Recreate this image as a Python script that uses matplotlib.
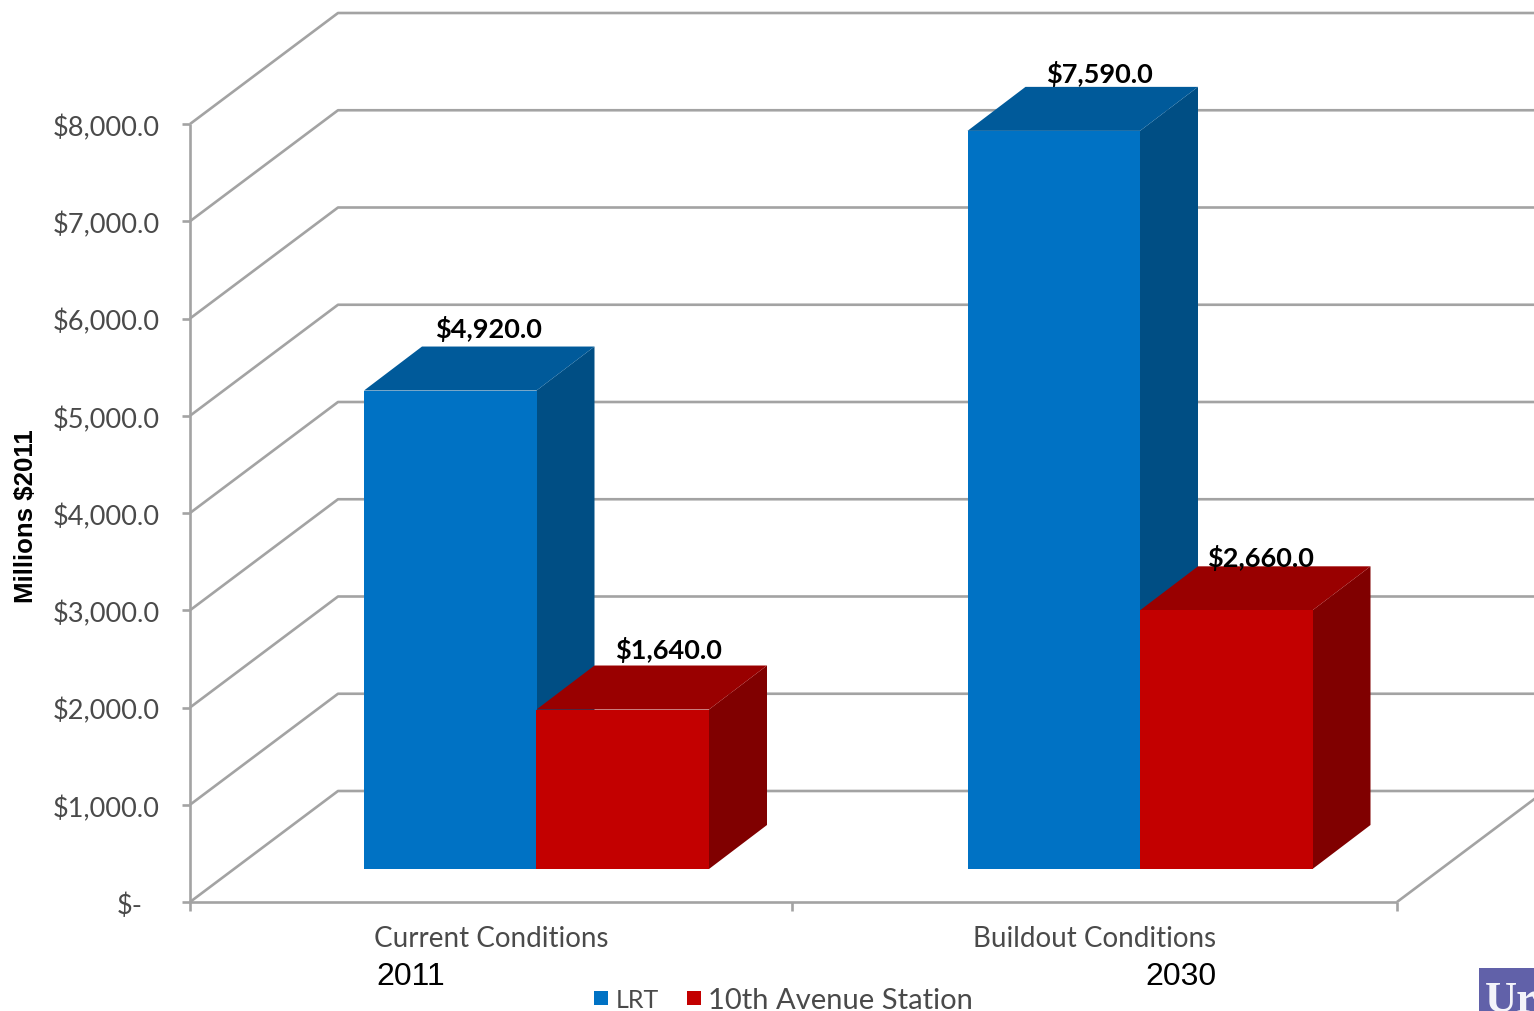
import matplotlib

matplotlib.use("Agg")

import matplotlib.pyplot as plt
from matplotlib.patches import Polygon, Rectangle

W, H = 1534, 1011

categories = ["Current Conditions", "Buildout Conditions"]
years = ["2011", "2030"]
lrt = [4920.0, 7590.0]
station = [1640.0, 2660.0]
y_ticks = [0, 1000, 2000, 3000, 4000, 5000, 6000, 7000, 8000]
y_tick_labels = [
    "$-", "$1,000.0", "$2,000.0", "$3,000.0", "$4,000.0",
    "$5,000.0", "$6,000.0", "$7,000.0", "$8,000.0",
]
series_names = ["LRT", "10th Avenue Station"]

# pixels per unit on the front plane
X_SCALE = 603.5
Y_SCALE = 0.09725
X0_PX, Y0_PX = 190, 902

GRID = "#a3a3a3"
TEXT = "#4a4a4a"
BLUE = ("#0072c4", "#005a9a", "#004e84")
RED = ("#c30000", "#990000", "#800000")

# 3d offsets: wall depth, bar inset from the front edge, bar depth
WALL_DX, WALL_DY = 148 / X_SCALE, 111 / Y_SCALE
INSET_DX, INSET_DY = 44 / X_SCALE, 33 / Y_SCALE
BAR_DX, BAR_DY = 58 / X_SCALE, 44 / Y_SCALE
BAR_W = 172.5 / X_SCALE

fig = plt.figure(figsize=(W / 100, H / 100), dpi=100, facecolor="white")
ax = fig.add_axes([0, 0, 1, 1])
ax.set_xlim(-X0_PX / X_SCALE, (W - X0_PX) / X_SCALE)
ax.set_ylim(-(H - Y0_PX) / Y_SCALE, Y0_PX / Y_SCALE)
ax.axis("off")


def fig_text(px, py, s, **kw):
    return fig.text(px / W, 1 - py / H, s, **kw)


def draw_bar(x, value, colors):
    y0 = INSET_DY
    y1 = y0 + value
    x1 = x + BAR_W
    front, top, side = colors
    ax.add_patch(Polygon(
        [(x1, y0), (x1 + BAR_DX, y0 + BAR_DY), (x1 + BAR_DX, y1 + BAR_DY), (x1, y1)],
        facecolor=side, edgecolor="none", zorder=3,
    ))
    ax.add_patch(Polygon(
        [(x, y1), (x1, y1), (x1 + BAR_DX, y1 + BAR_DY), (x + BAR_DX, y1 + BAR_DY)],
        facecolor=top, edgecolor="none", zorder=3,
    ))
    ax.add_patch(Rectangle((x, y0), BAR_W, value, facecolor=front, edgecolor="none", zorder=3))


# walls and floor
line_kw = dict(color=GRID, lw=1.9, solid_capstyle="butt", zorder=1)
x_end = ax.get_xlim()[1]
for v in y_ticks:
    ax.plot([0, WALL_DX, x_end], [v, v + WALL_DY, v + WALL_DY], **line_kw)
    ax.plot([-8 / X_SCALE, 0], [v, v], **line_kw)
ax.plot([0, 0], [0, y_ticks[-1]], **line_kw)
ax.plot([0, 2], [0, 0], **line_kw)
ax.plot([2, 2 + WALL_DX], [0, WALL_DY], **line_kw)
for x in [0, 0.997, 2]:
    ax.plot([x, x], [0, -9 / Y_SCALE], **line_kw)

# bars, left to right so the red blocks sit over the blue sides
for i in range(len(categories)):
    x_lrt = i + (364 - X0_PX) / X_SCALE
    draw_bar(x_lrt, lrt[i], BLUE)
    draw_bar(x_lrt + BAR_W, station[i], RED)

# value labels above the blocks
label_kw = dict(ha="center", va="center", fontsize=19.5, fontweight="bold",
                family="Lato", color="black", zorder=5)
fig_text(489, 329, f"${lrt[0]:,.1f}", **label_kw)
fig_text(668, 650, f"${station[0]:,.1f}", **label_kw)
fig_text(1099, 74, f"${lrt[1]:,.1f}", **label_kw)
fig_text(1260, 558, f"${station[1]:,.1f}", **label_kw)

# value axis labels
for v, label in zip(y_ticks, y_tick_labels):
    px = 143 if v == 0 else 160
    fig_text(px, Y0_PX - v * Y_SCALE + 4, label, ha="right", va="center",
             fontsize=19.5, family="Lato", color=TEXT)

fig_text(26, 516, "Millions $2011", rotation=90, ha="center", va="center",
         fontsize=18.6, family="Liberation Sans", fontweight="bold", color="black")

# category labels and the years under them
for px, name in zip([491, 1095], categories):
    fig_text(px, 939, name, ha="center", va="center", fontsize=20,
             family="Lato", color=TEXT)
for px, year in zip([411, 1181], years):
    fig_text(px, 977, year, ha="center", va="center", fontsize=23,
             family="Liberation Sans", color="black")

# legend
fig.patches.append(Rectangle((594 / W, 1 - 1005 / H), 14 / W, 14 / H, transform=fig.transFigure,
                             facecolor=BLUE[0], edgecolor="none"))
fig.patches.append(Rectangle((687 / W, 1 - 1005 / H), 14 / W, 14 / H, transform=fig.transFigure,
                             facecolor=RED[0], edgecolor="none"))
fig_text(616, 1001, series_names[0], ha="left", va="center", fontsize=18,
         family="Lato", color=TEXT)
fig_text(708, 1001, series_names[1], ha="left", va="center", fontsize=21,
         family="Lato", color=TEXT)

# logo corner
fig.patches.append(Rectangle((1479 / W, 0), 55 / W, 43 / H, transform=fig.transFigure,
                             facecolor="#6161a9", edgecolor="none"))
fig_text(1485, 1012, "Ur", ha="left", va="baseline", fontsize=32, fontweight="bold",
         family="Liberation Serif", color="#f4f4fa")

fig.savefig("out.png", dpi=100)
